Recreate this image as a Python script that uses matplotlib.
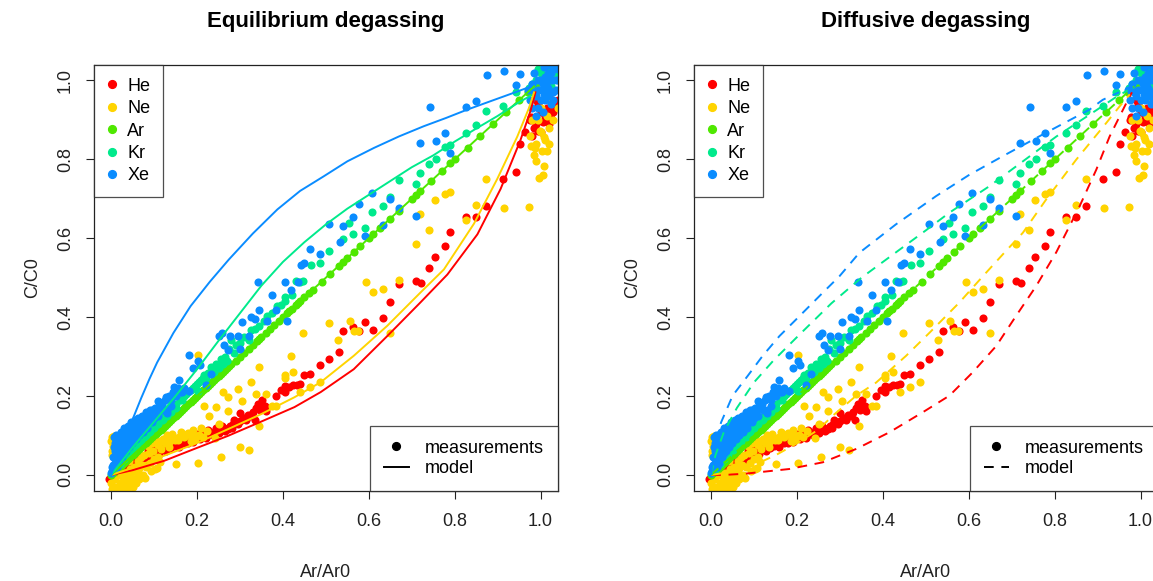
import matplotlib
matplotlib.use("Agg")
import matplotlib.pyplot as plt
from matplotlib.lines import Line2D

plt.rcParams['font.family'] = ['Liberation Sans', 'DejaVu Sans']
plt.rcParams['lines.scale_dashes'] = False

# ---------------- data ----------------
gases = ["He", "Ne", "Ar", "Kr", "Xe"]
colors = ["#FF0000", "#FFD400", "#4FE800", "#00EA8C", "#0A8CFF"]

he_x = [-0.004, 0.004, 0.010, 0.015, 0.021, 0.028, 0.033, 0.038, 0.045, 0.051, 0.057, 0.063, 0.068, 0.072,
        0.076, 0.082, 0.089, 0.095, 0.100, 0.106, 0.110, 0.114, 0.120, 0.127, 0.133, 0.140, 0.146, 0.152,
        0.160, 0.169, 0.175, 0.183, 0.190, 0.197, 0.203, 0.210, 0.216, 0.222, 0.228, 0.233, 0.241, 0.248,
        0.254, 0.262, 0.271, 0.276, 0.283, 0.290, 0.300, 0.300, 0.312, 0.318, 0.324, 0.330, 0.338, 0.343,
        0.350, 0.361, 0.385, 0.395, 0.406, 0.406, 0.415, 0.423, 0.432, 0.440, 0.448, 0.464, 0.486, 0.508,
        0.530, 0.541, 0.563, 0.578, 0.592, 0.609, 0.633, 0.650, 0.670, 0.709, 0.721, 0.740, 0.755, 0.778,
        0.789, 0.827, 0.850, 0.874, 0.912, 0.943, 0.952, 0.965, 0.977, 0.985, 0.994, 1.000, 1.005, 1.011,
        1.015, 1.019, 1.025, 1.032, 0.990, 1.020, 1.035,
        0.055, 0.060, 0.066, 0.070, 0.078, 0.085, 0.092, 0.098, 0.104, 0.112, 0.118, 0.124, 0.130, 0.136,
        0.143, 0.149, 0.157, 0.163, 0.172, 0.180, 0.187, 0.194, 0.200, 0.206, 0.213, 0.220, 0.226, 0.236,
        0.244, 0.251, 0.258, 0.266, 0.281, 0.287, 0.295, 0.306, 0.315, 0.328, 0.335, 0.347, 0.352, 0.358,
        0.975, 0.980, 0.990, 1.000, 1.010, 1.020, 1.030, 1.040, 0.995]
he_y = [-0.010, -0.004, 0.000, 0.005, 0.004, 0.010, 0.015, 0.013, 0.020, 0.021, 0.028, 0.030, 0.036, 0.045,
        0.041, 0.048, 0.051, 0.058, 0.055, 0.051, 0.062, 0.067, 0.070, 0.060, 0.072, 0.079, 0.074, 0.077,
        0.082, 0.080, 0.088, 0.092, 0.084, 0.095, 0.096, 0.100, 0.103, 0.098, 0.106, 0.103, 0.111, 0.114,
        0.116, 0.120, 0.117, 0.124, 0.130, 0.134, 0.137, 0.158, 0.145, 0.152, 0.150, 0.160, 0.169, 0.180,
        0.172, 0.163, 0.201, 0.215, 0.210, 0.225, 0.222, 0.227, 0.228, 0.231, 0.254, 0.255, 0.278, 0.294,
        0.311, 0.366, 0.374, 0.364, 0.387, 0.368, 0.398, 0.438, 0.485, 0.492, 0.486, 0.525, 0.553, 0.580,
        0.616, 0.653, 0.655, 0.682, 0.751, 0.769, 0.839, 0.870, 0.908, 0.880, 0.873, 0.920, 0.895, 0.899,
        0.930, 0.925, 0.905, 0.946, 0.950, 0.960, 0.935,
        0.035, 0.020, 0.042, 0.030, 0.035, 0.060, 0.045, 0.065, 0.070, 0.052, 0.078, 0.065, 0.085, 0.068,
        0.088, 0.082, 0.072, 0.092, 0.086, 0.082, 0.100, 0.090, 0.105, 0.090, 0.110, 0.093, 0.115, 0.100,
        0.120, 0.107, 0.125, 0.112, 0.120, 0.140, 0.128, 0.145, 0.138, 0.155, 0.140, 0.165, 0.190, 0.175,
        0.900, 0.860, 0.890, 0.870, 0.910, 0.890, 0.920, 0.950, 0.940]

ne_x = [0.004, 0.006, 0.011, 0.003, 0.008, 0.000, 0.008, 0.013, 0.020, 0.025, 0.030, 0.035, 0.038, 0.043,
        0.047, 0.051, 0.055, 0.060, 0.063, 0.068, 0.072, 0.076, 0.079, 0.085, 0.090, 0.095, 0.100, 0.101,
        0.106, 0.110, 0.114, 0.114, 0.120, 0.131, 0.138, 0.145, 0.151, 0.155, 0.165, 0.170, 0.178, 0.185,
        0.199, 0.202, 0.203, 0.210, 0.216, 0.224, 0.228, 0.241, 0.245, 0.250, 0.256, 0.260, 0.271, 0.273,
        0.296, 0.300, 0.305, 0.320, 0.326, 0.338, 0.345, 0.345, 0.360, 0.375, 0.385, 0.406, 0.406, 0.419,
        0.423, 0.440, 0.447, 0.464, 0.486, 0.508, 0.529, 0.557, 0.565, 0.575, 0.594, 0.609, 0.633, 0.650,
        0.670, 0.709, 0.719, 0.740, 0.755, 0.778, 0.789, 0.827, 0.850, 0.874, 0.914, 0.973, 0.977, 0.986,
        0.990, 0.996, 0.998, 1.003, 1.007, 1.008, 0.980, 1.000, 1.015, 1.020, 1.025, 0.990,
        0.005, 0.010, 0.015, 0.018, 0.022, 0.028, 0.032, 0.040, 0.045, 0.050, 0.053, 0.058, 0.062, 0.065,
        0.070, 0.075, 0.080, 0.088, 0.092, 0.097, 0.104, 0.108, 0.117, 0.125, 0.130, 0.135, 0.142, 0.148,
        0.158, 0.162, 0.175, 0.190, 0.195, 0.205, 0.213, 0.185, 0.000, 0.002, 0.003, 0.001, 0.012, 0.020,
        0.026, 0.035, 0.042,
        0.975, 0.985, 0.990, 1.000, 1.010, 1.015, 1.020, 1.030, 1.040, 0.995, 1.005]
ne_y = [0.073, 0.098, 0.086, 0.060, 0.050, -0.020, -0.030, -0.034, -0.020, -0.035, -0.026, -0.010, -0.034, 0.000,
        -0.015, -0.013, 0.010, -0.005, 0.009, 0.020, 0.026, 0.051, -0.008, 0.073, 0.030, 0.080, 0.040, 0.015,
        0.017, 0.075, 0.034, 0.086, 0.090, 0.090, 0.085, 0.095, 0.027, 0.088, 0.103, 0.095, 0.107, 0.100,
        0.098, 0.030, 0.304, 0.120, 0.176, 0.111, 0.150, 0.094, 0.171, 0.128, 0.045, 0.210, 0.163, 0.197,
        0.218, 0.070, 0.188, 0.062, 0.235, 0.205, 0.124, 0.274, 0.205, 0.176, 0.176, 0.253, 0.246, 0.301,
        0.261, 0.210, 0.360, 0.223, 0.235, 0.385, 0.342, 0.390, 0.366, 0.364, 0.488, 0.465, 0.471, 0.361,
        0.494, 0.585, 0.662, 0.622, 0.696, 0.711, 0.717, 0.646, 0.685, 0.749, 0.676, 0.678, 0.835, 0.830,
        0.796, 0.753, 0.873, 0.822, 0.856, 0.783, 0.900, 0.930, 0.910, 0.880, 0.950, 0.970,
        -0.035, -0.010, 0.010, -0.030, 0.000, -0.015, 0.005, -0.025, 0.015, -0.030, 0.020, -0.020, 0.035, -0.010,
        0.045, 0.000, 0.020, 0.055, 0.010, 0.060, 0.085, 0.045, 0.065, 0.080, 0.100, 0.070, 0.105, 0.088,
        0.095, 0.110, 0.100, 0.115, 0.090, 0.100, 0.095, 0.085, 0.085, 0.095, 0.050, -0.035, 0.070, 0.045,
        0.030, 0.045, 0.035,
        0.860, 0.810, 0.840, 0.870, 0.850, 0.820, 0.840, 0.900, 0.930, 0.900, 0.760]

ar_x = [0.000, 0.005, 0.010, 0.015, 0.020, 0.025, 0.030, 0.035, 0.040, 0.045, 0.050, 0.055, 0.060, 0.065,
        0.070, 0.075, 0.080, 0.085, 0.090, 0.095, 0.100, 0.105, 0.110, 0.115, 0.120, 0.125, 0.130, 0.135,
        0.140, 0.145, 0.150, 0.155, 0.160, 0.165, 0.170, 0.175, 0.180, 0.185, 0.190, 0.195, 0.200, 0.205,
        0.210, 0.215, 0.220, 0.225, 0.230, 0.235, 0.240, 0.245, 0.250, 0.255, 0.260, 0.265, 0.270, 0.275,
        0.280, 0.290, 0.300, 0.310, 0.320, 0.330, 0.340, 0.345, 0.350, 0.360, 0.370, 0.380, 0.390, 0.400,
        0.410, 0.415, 0.420, 0.430, 0.435, 0.440, 0.450, 0.460, 0.470, 0.490, 0.510, 0.530, 0.540, 0.550,
        0.565, 0.580, 0.600, 0.610, 0.625, 0.650, 0.670, 0.700, 0.710, 0.720, 0.745, 0.770, 0.790, 0.800,
        0.830, 0.860, 0.890, 0.920, 0.950, 0.970, 0.980, 0.990, 1.000, 1.010, 1.020]
ar_y = [0.000, 0.005, 0.010, 0.015, 0.020, 0.025, 0.030, 0.035, 0.040, 0.045, 0.050, 0.055, 0.060, 0.065,
        0.070, 0.075, 0.080, 0.085, 0.090, 0.095, 0.100, 0.105, 0.110, 0.115, 0.120, 0.125, 0.130, 0.135,
        0.140, 0.145, 0.150, 0.155, 0.160, 0.165, 0.170, 0.175, 0.180, 0.185, 0.190, 0.195, 0.200, 0.205,
        0.210, 0.215, 0.220, 0.225, 0.230, 0.235, 0.240, 0.245, 0.250, 0.255, 0.260, 0.265, 0.270, 0.275,
        0.280, 0.290, 0.300, 0.310, 0.320, 0.330, 0.340, 0.345, 0.350, 0.360, 0.370, 0.380, 0.390, 0.400,
        0.410, 0.415, 0.420, 0.430, 0.435, 0.440, 0.450, 0.460, 0.470, 0.490, 0.510, 0.530, 0.540, 0.550,
        0.565, 0.580, 0.600, 0.610, 0.625, 0.650, 0.670, 0.700, 0.710, 0.720, 0.745, 0.770, 0.790, 0.800,
        0.830, 0.860, 0.890, 0.920, 0.950, 0.970, 0.980, 0.990, 1.000, 1.010, 1.020]

kr_x = [0.005, 0.010, 0.015, 0.020, 0.025, 0.030, 0.035, 0.040, 0.045, 0.050, 0.055, 0.060, 0.065, 0.070,
        0.075, 0.080, 0.085, 0.090, 0.095, 0.100, 0.105, 0.110, 0.115, 0.120, 0.125, 0.130, 0.135, 0.140,
        0.145, 0.150, 0.160, 0.170, 0.180, 0.190, 0.200, 0.203, 0.210, 0.216, 0.220, 0.233, 0.240, 0.256,
        0.260, 0.275, 0.279, 0.290, 0.321, 0.326, 0.344, 0.364, 0.387, 0.406, 0.406, 0.431, 0.446, 0.465,
        0.486, 0.508, 0.541, 0.555, 0.563, 0.592, 0.607, 0.633, 0.650, 0.670, 0.709, 0.719, 0.740, 0.757,
        0.778, 0.789, 0.827, 0.850, 0.874, 0.912, 0.943, 0.973, 0.990, 1.000, 1.010, 1.020, 1.030, 0.985, 1.030,
        0.010, 0.020, 0.030, 0.040, 0.050, 0.060, 0.070, 0.080, 0.090, 0.100, 0.110, 0.120, 0.130, 0.140,
        0.150, 0.165, 0.175, 0.185, 0.195, 0.205, 0.215, 0.225, 0.235, 0.245, 0.250, 0.265, 0.270, 0.285,
        0.300, 0.310, 0.335, 0.355, 0.375, 0.395, 0.420, 0.440,
        0.980, 0.995, 1.005, 1.015, 1.025, 1.035, 1.040]
kr_y = [0.010, 0.020, 0.028, 0.035, 0.040, 0.048, 0.052, 0.060, 0.066, 0.072, 0.078, 0.084, 0.090, 0.095,
        0.100, 0.106, 0.110, 0.118, 0.122, 0.128, 0.133, 0.138, 0.143, 0.148, 0.152, 0.158, 0.164, 0.168,
        0.172, 0.180, 0.190, 0.200, 0.210, 0.220, 0.230, 0.214, 0.240, 0.253, 0.245, 0.274, 0.262, 0.295,
        0.282, 0.318, 0.342, 0.330, 0.342, 0.368, 0.377, 0.402, 0.428, 0.441, 0.450, 0.492, 0.491, 0.533,
        0.537, 0.568, 0.597, 0.638, 0.612, 0.625, 0.666, 0.683, 0.705, 0.747, 0.738, 0.766, 0.789, 0.801,
        0.832, 0.836, 0.866, 0.886, 0.922, 0.935, 0.972, 0.980, 1.000, 1.020, 0.990, 1.030, 1.010, 0.970, 1.040,
        0.012, 0.028, 0.040, 0.052, 0.062, 0.075, 0.086, 0.096, 0.108, 0.118, 0.130, 0.140, 0.150, 0.160,
        0.170, 0.190, 0.205, 0.215, 0.225, 0.235, 0.245, 0.258, 0.268, 0.280, 0.270, 0.300, 0.290, 0.310,
        0.335, 0.350, 0.370, 0.390, 0.410, 0.430, 0.455, 0.490,
        0.990, 1.030, 1.000, 1.035, 0.985, 1.020, 1.000]

xe_x = [0.743, 0.876, 0.914, 0.952, 0.943, 0.827, 0.850, 0.719, 0.757, 0.778, 0.789, 0.607, 0.578, 0.650,
        0.670, 0.709, 0.633, 0.508, 0.541, 0.563, 0.592, 0.533, 0.464, 0.486, 0.442, 0.448, 0.406, 0.419,
        0.434, 0.375, 0.343, 0.345, 0.385, 0.305, 0.326, 0.336, 0.362, 0.409, 0.250, 0.258, 0.277, 0.296,
        0.321, 0.262, 0.271, 0.300, 0.182, 0.203, 0.190, 0.207, 0.233, 0.220, 0.157, 0.146, 0.165, 0.182,
        0.127, 0.110, 0.106, 0.131, 0.089, 0.076, 0.063,
        0.000, 0.003, 0.004, 0.006, 0.007, 0.010, 0.012, 0.014, 0.016, 0.018, 0.020, 0.022, 0.024, 0.027,
        0.029, 0.032, 0.034, 0.037, 0.040, 0.042, 0.045, 0.048, 0.050, 0.053, 0.056, 0.058, 0.061, 0.064,
        0.067, 0.070, 0.073, 0.076, 0.079, 0.082, 0.085, 0.088, 0.092, 0.096, 0.100, 0.104, 0.115, 0.120,
        0.140, 0.150, 0.170, 0.160,
        0.002, 0.005, 0.008, 0.009, 0.011, 0.013, 0.015, 0.017, 0.019, 0.021, 0.023, 0.025, 0.028, 0.030,
        0.031, 0.035, 0.036, 0.039, 0.041, 0.044, 0.046, 0.049, 0.052, 0.055, 0.057, 0.060, 0.062, 0.065,
        0.068, 0.071, 0.074, 0.078, 0.081, 0.084, 0.087, 0.090, 0.094, 0.098, 0.102, 0.108, 0.112, 0.118,
        0.125, 0.135, 0.145, 0.155, 0.140, 0.130,
        0.975, 0.980, 0.985, 0.990, 0.995, 1.000, 1.003, 1.007, 1.010, 1.013, 1.017, 1.020, 1.024, 1.027,
        1.030, 1.035, 0.990, 1.005, 0.970, 1.015,
        0.980, 0.985, 0.995, 1.000, 1.005, 1.010, 1.015, 1.020, 1.025, 1.030, 1.035, 1.040, 0.995, 1.008,
        1.018, 1.028]
xe_y = [0.933, 1.013, 1.025, 1.016, 0.989, 0.933, 0.949, 0.841, 0.846, 0.866, 0.816, 0.715, 0.688, 0.700,
        0.676, 0.657, 0.634, 0.635, 0.632, 0.653, 0.606, 0.591, 0.573, 0.559, 0.533, 0.538, 0.490, 0.469,
        0.488, 0.456, 0.488, 0.417, 0.417, 0.387, 0.400, 0.396, 0.390, 0.391, 0.353, 0.361, 0.351, 0.353,
        0.351, 0.330, 0.317, 0.319, 0.304, 0.289, 0.270, 0.278, 0.257, 0.227, 0.240, 0.223, 0.211, 0.214,
        0.197, 0.188, 0.167, 0.158, 0.147, 0.137, 0.128,
        0.005, 0.020, 0.045, 0.070, 0.095, 0.030, 0.055, 0.085, 0.040, 0.065, 0.100, 0.050, 0.078, 0.060,
        0.090, 0.070, 0.105, 0.080, 0.095, 0.115, 0.085, 0.105, 0.125, 0.095, 0.115, 0.135, 0.105, 0.120,
        0.140, 0.115, 0.130, 0.150, 0.125, 0.140, 0.155, 0.135, 0.150, 0.165, 0.145, 0.160, 0.175, 0.165,
        0.190, 0.200, 0.220, 0.210,
        0.010, 0.025, 0.060, 0.080, 0.100, 0.020, 0.070, 0.095, 0.030, 0.085, 0.110, 0.045, 0.100, 0.055,
        0.120, 0.060, 0.100, 0.125, 0.070, 0.115, 0.135, 0.080, 0.120, 0.140, 0.090, 0.125, 0.145, 0.100,
        0.130, 0.150, 0.110, 0.140, 0.160, 0.120, 0.150, 0.165, 0.135, 0.155, 0.170, 0.150, 0.185, 0.180,
        0.190, 0.200, 0.210, 0.220, 0.175, 0.165,
        0.950, 0.990, 1.020, 0.960, 0.930, 1.000, 0.975, 1.035, 0.950, 0.990, 1.020, 0.965, 0.940, 1.000,
        1.030, 0.975, 0.910, 0.920, 0.975, 1.040,
        0.930, 0.970, 1.000, 0.950, 0.990, 1.010, 0.960, 1.000, 1.020, 0.950, 1.000, 1.030, 0.975, 0.965,
        0.980, 0.970]

# model curves: equilibrium degassing
he_eq_x = [0.0, 0.05, 0.124, 0.194, 0.272, 0.349, 0.427, 0.488, 0.565, 0.643, 0.720, 0.783, 0.853, 0.907, 0.953, 0.977, 0.988]
he_eq_y = [0.0, 0.012, 0.036, 0.066, 0.099, 0.135, 0.172, 0.210, 0.268, 0.352, 0.437, 0.508, 0.610, 0.725, 0.848, 0.924, 0.970]
ne_eq_x = [0.0, 0.05, 0.124, 0.194, 0.272, 0.349, 0.427, 0.488, 0.565, 0.643, 0.720, 0.775, 0.845, 0.899, 0.946, 0.973, 0.985]
ne_eq_y = [0.0, 0.018, 0.049, 0.078, 0.116, 0.154, 0.197, 0.235, 0.302, 0.378, 0.462, 0.521, 0.637, 0.750, 0.858, 0.930, 0.970]
ar_eq_x = [0.0, 0.985]
ar_eq_y = [0.0, 0.985]
kr_eq_x = [0.0, 0.05, 0.10, 0.15, 0.20, 0.25, 0.30, 0.35, 0.40, 0.45, 0.50, 0.55, 0.60, 0.65, 0.70, 0.75, 0.80, 0.85, 0.90, 0.95, 0.978]
kr_eq_y = [0.0, 0.07, 0.135, 0.20, 0.268, 0.34, 0.41, 0.48, 0.54, 0.59, 0.635, 0.675, 0.71, 0.745, 0.78, 0.81, 0.845, 0.878, 0.91, 0.945, 0.962]
xe_eq_x = [0.0, 0.02, 0.047, 0.07, 0.089, 0.107, 0.145, 0.185, 0.23, 0.274, 0.33, 0.387, 0.44, 0.495, 0.55, 0.612, 0.67, 0.728, 0.78, 0.829, 0.89, 0.946, 0.978]
xe_eq_y = [0.0, 0.07, 0.133, 0.195, 0.243, 0.285, 0.36, 0.428, 0.49, 0.546, 0.612, 0.673, 0.72, 0.757, 0.795, 0.829, 0.858, 0.884, 0.905, 0.926, 0.95, 0.972, 0.985]

# model curves: diffusive degassing
he_df_x = [0.0, 0.03, 0.078, 0.182, 0.26, 0.338, 0.415, 0.493, 0.555, 0.609, 0.664, 0.71, 0.757, 0.804, 0.858, 0.897, 0.928, 0.967, 0.98]
he_df_y = [0.0, 0.0, 0.003, 0.015, 0.032, 0.066, 0.108, 0.159, 0.201, 0.26, 0.327, 0.403, 0.479, 0.565, 0.681, 0.774, 0.858, 0.943, 0.97]
ne_df_x = [0.0, 0.05, 0.10, 0.15, 0.20, 0.25, 0.283, 0.338, 0.384, 0.454, 0.509, 0.578, 0.633, 0.68, 0.726, 0.78, 0.85, 0.92, 0.951, 0.975]
ne_df_y = [0.0, 0.008, 0.025, 0.05, 0.08, 0.115, 0.15, 0.201, 0.234, 0.302, 0.361, 0.437, 0.504, 0.56, 0.614, 0.698, 0.799, 0.892, 0.934, 0.965]
ar_df_x = [0.0, 0.985]
ar_df_y = [0.0, 0.985]
kr_df_x = [0.0, 0.01, 0.03, 0.06, 0.10, 0.145, 0.205, 0.28, 0.35, 0.425, 0.50, 0.555, 0.648, 0.726, 0.804, 0.881, 0.943, 0.97]
kr_df_y = [0.0, 0.05, 0.11, 0.17, 0.235, 0.29, 0.355, 0.435, 0.50, 0.56, 0.62, 0.665, 0.732, 0.795, 0.858, 0.913, 0.958, 0.975]
xe_df_x = [0.0, 0.005, 0.023, 0.05, 0.085, 0.12, 0.159, 0.206, 0.26, 0.299, 0.345, 0.43, 0.524, 0.60, 0.679, 0.772, 0.881, 0.912, 0.95]
xe_df_y = [0.0, 0.06, 0.133, 0.201, 0.251, 0.302, 0.352, 0.403, 0.462, 0.504, 0.563, 0.635, 0.707, 0.76, 0.808, 0.863, 0.926, 0.951, 0.97]

ticks = [0.0, 0.2, 0.4, 0.6, 0.8, 1.0]
tick_labels = ["0.0", "0.2", "0.4", "0.6", "0.8", "1.0"]
titles = ["Equilibrium degassing", "Diffusive degassing"]
legend2_labels = ["measurements", "model"]

points = [(he_x, he_y), (ne_x, ne_y), (ar_x, ar_y), (kr_x, kr_y), (xe_x, xe_y)]
eq_curves = [(he_eq_x, he_eq_y), (ne_eq_x, ne_eq_y), (ar_eq_x, ar_eq_y), (kr_eq_x, kr_eq_y), (xe_eq_x, xe_eq_y)]
df_curves = [(he_df_x, he_df_y), (ne_df_x, ne_df_y), (ar_df_x, ar_df_y), (kr_df_x, kr_df_y), (xe_df_x, xe_df_y)]

# ---------------- figure ----------------
W, H = 1153, 581
fig = plt.figure(figsize=(W / 100, H / 100), dpi=100)
fig.patch.set_facecolor("white")

axw, axh = 463.7 / W, 426 / H
bottom = (H - 490.7) / H
ax_l = fig.add_axes([94 / W, bottom, axw, axh])
ax_r = fig.add_axes([694 / W, bottom, axw, axh])

FS = 13
TXT = "#222222"
DASH = (0, (7.0, 5.5))

for ax, curves, title, ls in [(ax_l, eq_curves, titles[0], "-"), (ax_r, df_curves, titles[1], DASH)]:
    for (px, py), c in zip(points, colors):
        ax.scatter(px, py, s=34, color=c, linewidths=0, zorder=2)
    for (cx, cy), c in zip(curves, colors):
        ax.plot(cx, cy, color=c, lw=1.4, linestyle=ls, zorder=3)
    ax.set_xlim(-0.04, 1.04)
    ax.set_ylim(-0.04, 1.04)
    ax.set_xticks(ticks)
    ax.set_xticklabels(tick_labels)
    ax.set_yticks(ticks)
    ax.set_yticklabels(tick_labels, rotation=90, va="center")
    ax.tick_params(direction="out", length=5.5, width=0.8, labelsize=FS, colors=TXT)
    ax.tick_params(axis="x", pad=10.5)
    ax.tick_params(axis="y", pad=9)
    for sp in ax.spines.values():
        sp.set_linewidth(0.9)
        sp.set_color(TXT)
    ax.set_title(title, fontsize=16, fontweight="bold", pad=27)
    ax.set_xlabel("Ar/Ar0", fontsize=FS, color=TXT)
    ax.set_ylabel("C/C0", fontsize=FS, color=TXT)
    ax.xaxis.set_label_coords(0.5, -0.171)
    ax.yaxis.set_label_coords(-0.114, 0.5)

    h1 = [Line2D([], [], marker="o", ls="", color=c, markersize=5.6) for c in colors]
    leg1 = ax.legend(h1, gases, loc="upper left", bbox_to_anchor=(0, 1), borderaxespad=0,
                     fontsize=FS, frameon=True, fancybox=False, edgecolor=TXT,
                     borderpad=0.72, labelspacing=0.30,
                     handlelength=0.5, handletextpad=0.62)
    leg1.get_frame().set_linewidth(0.9)
    ax.add_artist(leg1)

    h2 = [Line2D([], [], marker="o", ls="", color="black", markersize=5.6),
          Line2D([], [], color="black", lw=1.4, linestyle=ls)]
    leg2 = ax.legend(h2, legend2_labels, loc="lower right", bbox_to_anchor=(1, 0), borderaxespad=0,
                     fontsize=FS, frameon=True, fancybox=False, edgecolor=TXT,
                     borderpad=0.76, labelspacing=0.19,
                     handlelength=1.4, handletextpad=0.89)
    leg2.get_frame().set_linewidth(0.9)

fig.savefig("out.png", dpi=100, facecolor="white")
